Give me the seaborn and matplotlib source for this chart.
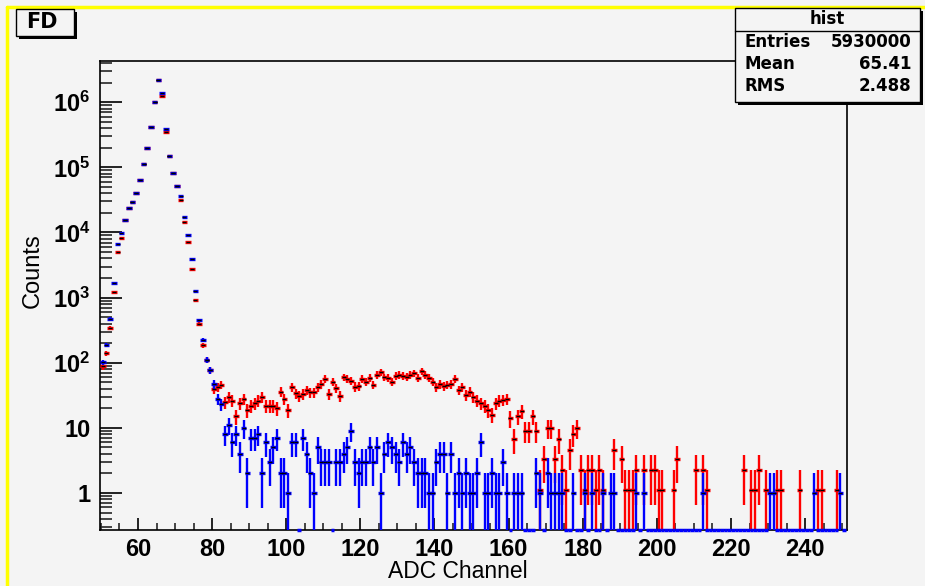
import numpy as np
import pandas as pd
import matplotlib
matplotlib.use("Agg")
import matplotlib.pyplot as plt
import seaborn as sns
from matplotlib import font_manager
from matplotlib.patches import Rectangle
from matplotlib.lines import Line2D
from matplotlib.ticker import MultipleLocator, LogLocator, NullFormatter, FixedLocator

# ---------------- data ----------------
first_channel = 50
blue_counts = [
    102, 189, 476, 1686, 6650, 9720, 15600, 23600, 29800, 40200,          # 50-59
    64400, 112000, 198000, 412000, 1000000, 2180000, 1400000, 389000, 151000, 81700,  # 60-69
    52100, 36500, 17500, 9160, 3860, 1270, 449, 221, 111, 76,             # 70-79
    47, 28, 23, 8, 11, 6, 8, 4, 10, 2,                                    # 80-89
    7, 7, 8, 2, 6, 3, 5, 7, 2, 2,                                         # 90-99
    1, 6, 6, 0, 7, 4, 2, 1, 5, 3,                                         # 100-109
    3, 3, 0, 3, 3, 4, 5, 9, 3, 2,                                         # 110-119
    3, 3, 5, 3, 5, 1, 4, 6, 5, 4,                                         # 120-129
    3, 6, 4, 5, 3, 2, 2, 2, 1, 1,                                         # 130-139
    3, 4, 4, 1, 4, 1, 2, 1, 2, 1,                                         # 140-149
    1, 2, 6, 1, 1, 2, 1, 1, 3, 1,                                         # 150-159
    0, 1, 1, 1, 0, 0, 0, 2, 1, 0,                                         # 160-169
    2, 1, 1, 1, 1, 0, 0, 1, 0, 0,                                         # 170-179
    1, 0, 1, 0, 0, 1, 0, 1, 1, 0,                                         # 180-189
    0, 0, 0, 0, 1, 0, 1, 0, 0, 0,                                         # 190-199
    0, 0, 0, 0, 0, 0, 0, 0, 0, 0,                                         # 200-209
    0, 0, 1, 0, 0, 0, 0, 0, 0, 0,                                         # 210-219
    0, 0, 0, 0, 0, 0, 0, 0, 0, 0,                                         # 220-229
    1, 1, 0, 0, 0, 0, 0, 0, 0, 0,                                         # 230-239
    0, 0, 1, 0, 0, 0, 0, 0, 0, 1,                                         # 240-249
    0,                                                                    # 250
]
red_counts = [
    88, 141, 346, 1224, 4955, 8140, 15600, 23600, 29800, 40200,           # 50-59
    64400, 112000, 198000, 412000, 1000000, 2180000, 1240000, 345000, 151000, 81700,  # 60-69
    52100, 31700, 14700, 7210, 2710, 912, 399, 185, 111, 76,              # 70-79
    40, 42, 46, 25, 30, 26, 15, 24, 28, 19,                               # 80-89
    22, 24, 26, 30, 22, 22, 22, 20, 36, 28,                               # 90-99
    19, 42, 34, 31, 33, 38, 35, 35, 42, 47,                               # 100-109
    56, 33, 51, 41, 31, 60, 56, 53, 43, 44,                               # 110-119
    56, 51, 58, 46, 65, 71, 60, 58, 51, 63,                               # 120-129
    65, 63, 61, 65, 69, 58, 75, 65, 58, 51,                               # 130-139
    42, 47, 44, 46, 47, 56, 38, 42, 32, 36,                               # 140-149
    30, 26, 24, 22, 19, 16, 24, 26, 27, 28,                               # 150-159
    14, 6.7, 15, 18, 9, 9, 15, 9, 1.12, 3.36,                             # 160-169
    10, 10, 3.36, 6.7, 2.24, 1.12, 4.5, 8, 10, 2.24,                      # 170-179
    1.12, 2.24, 2.24, 1.12, 2.24, 1.12, 0, 0, 4.5, 0,                     # 180-189
    3.36, 1.12, 1.12, 1.12, 2.24, 0, 2.24, 0, 2.24, 2.24,                 # 190-199
    1.12, 1.12, 0, 0, 1.12, 3.36, 0, 0, 0, 0,                             # 200-209
    2.24, 0, 2.24, 1.12, 0, 0, 0, 0, 0, 0,                                # 210-219
    0, 0, 0, 2.24, 0, 1.12, 1.12, 2.24, 0, 1.12,                          # 220-229
    0, 0, 1.12, 1.12, 0, 0, 0, 0, 1.12, 0,                                # 230-239
    0, 0, 0, 1.12, 1.12, 0, 0, 0, 1.12, 0,                                # 240-249
    0,                                                                    # 250
]
red_weight = 1.12   # per-entry weight of the red histogram (for its errors)

x_ticks = [60, 80, 100, 120, 140, 160, 180, 200, 220, 240]
y_ticks = [1, 10, 1e2, 1e3, 1e4, 1e5, 1e6]
y_tick_labels = ["1", "10", r"$\mathbf{10^{2}}$", r"$\mathbf{10^{3}}$", r"$\mathbf{10^{4}}$",
                 r"$\mathbf{10^{5}}$", r"$\mathbf{10^{6}}$"]
x_title = "ADC Channel"
y_title = "Counts"
pad_label = "FD"
stats_title = "hist"
stats_rows = [("Entries", "5930000"), ("Mean", "65.41"), ("RMS", "2.488")]

# ---------------- style ----------------
sns.set_theme(style="ticks")
names = {f.name for f in font_manager.fontManager.ttflist}
narrow = "Liberation Sans Narrow" if "Liberation Sans Narrow" in names else "Liberation Sans"
plt.rcParams["font.family"] = [narrow, "DejaVu Sans"]
plt.rcParams["mathtext.fontset"] = "custom"
plt.rcParams["mathtext.rm"] = narrow + ":bold"
plt.rcParams["mathtext.bf"] = narrow + ":bold"
plt.rcParams["mathtext.it"] = narrow + ":bold"

BG = "#f4f4f4"
W, H = 925, 586
fig = plt.figure(figsize=(W / 100, H / 100), dpi=100, facecolor=BG)

def fx(px):
    return px / W

def fy(py):
    return 1 - py / H

L, R, T, B = 100, 847, 61, 530
ax = fig.add_axes([fx(L), fy(B), fx(R) - fx(L), fy(T) - fy(B)])
ax.set_facecolor(BG)

YMIN, YMAX = 0.27, 4.3e6
ax.set_yscale("log")
ax.set_xlim(49.75, 251.3)
ax.set_ylim(YMIN, YMAX)

channels = np.arange(first_channel, first_channel + len(blue_counts))
df = pd.concat([
    pd.DataFrame({"channel": channels + 0.5, "counts": np.asarray(red_counts, float),
                  "series": "red", "w": red_weight}),
    pd.DataFrame({"channel": channels + 0.5, "counts": np.asarray(blue_counts, float),
                  "series": "blue", "w": 1.0}),
], ignore_index=True)

colors = {"red": "#ff0000", "blue": "#0000ff"}
for name in ["red", "blue"]:
    d = df[df["series"] == name]
    nz = d[d["counts"] > 0]
    err = np.sqrt(nz["w"] * nz["counts"])
    lo = np.clip(nz["counts"] - err, YMIN * 0.5, None)
    hi = nz["counts"] + err
    ax.vlines(nz["channel"], lo, hi, color=colors[name], lw=1.7, zorder=3)
    ax.hlines(nz["counts"], nz["channel"] - 0.75, nz["channel"] + 0.75,
              color=colors[name], lw=2.4, zorder=3)
    sns.scatterplot(data=nz, x="channel", y="counts", marker="_", color="black",
                    s=5, linewidth=1.0, ax=ax, zorder=4, legend=False)
    if name == "blue":
        z = d[(d["counts"] <= 0) & (d["channel"] > 80)]
        ax.hlines(np.full(len(z), YMIN), z["channel"] - 0.5, z["channel"] + 0.5,
                  color=colors[name], lw=2.5, zorder=5, clip_on=False)

ax.set_xlabel("")
ax.set_ylabel("")

# ticks
ax.xaxis.set_major_locator(FixedLocator(x_ticks))
ax.xaxis.set_minor_locator(MultipleLocator(5))
ax.yaxis.set_major_locator(FixedLocator(y_ticks))
ax.set_yticklabels(y_tick_labels)
ax.set_xticklabels([str(v) for v in x_ticks])
ax.yaxis.set_minor_locator(LogLocator(base=10, subs=np.arange(2, 10)))
ax.yaxis.set_minor_formatter(NullFormatter())
ax.tick_params(axis="x", which="major", direction="in", length=9, width=1.2, pad=6,
               labelsize=17, colors="black", top=False)
ax.tick_params(axis="x", which="minor", direction="in", length=5, width=1.2, top=False)
ax.tick_params(axis="y", which="major", direction="in", length=16, width=1.2, pad=7,
               labelsize=17, colors="black", right=False)
ax.tick_params(axis="y", which="minor", direction="in", length=8.5, width=1.2, right=False)
for lab in ax.get_xticklabels() + ax.get_yticklabels():
    lab.set_fontweight("bold")
for s in ax.spines.values():
    s.set_color("black")
    s.set_linewidth(1.2)
    s.set_zorder(2.5)

# axis titles
fig.text(fx(458), fy(572), x_title, ha="center", va="center", fontsize=16.5, color="black")
fig.text(fx(33), fy(271), y_title, ha="center", va="center", rotation=90, fontsize=17,
         color="black")

# pad border (yellow)
fig.add_artist(Line2D([fx(7), fx(W)], [fy(7), fy(7)], transform=fig.transFigure,
                      color="#ffff00", lw=2.5))
fig.add_artist(Line2D([fx(7), fx(7)], [fy(H), fy(7)], transform=fig.transFigure,
                      color="#ffff00", lw=2.5))

def box(x0, y0, x1, y1, shadow=3, z=10):
    fig.add_artist(Rectangle((fx(x0 + shadow), fy(y1 + shadow)), fx(x1 - x0), fy(y0) - fy(y1),
                             transform=fig.transFigure, facecolor="black", edgecolor="none",
                             zorder=z))
    fig.add_artist(Rectangle((fx(x0), fy(y1)), fx(x1 - x0), fy(y0) - fy(y1),
                             transform=fig.transFigure, facecolor=BG, edgecolor="black",
                             lw=1.0, zorder=z + 1))

# FD label
box(16, 9, 74, 36, shadow=3)
fig.text(fx(42), fy(22.5), pad_label, ha="center", va="center", fontsize=15,
         fontweight="bold", family=["DejaVu Sans"], color="black", zorder=13)

# stats box
box(735, 8, 920, 102, shadow=3)
fig.add_artist(Line2D([fx(735), fx(920)], [fy(31), fy(31)], transform=fig.transFigure,
                      color="black", lw=1.0, zorder=12))
fig.text(fx(827), fy(19), stats_title, ha="center", va="center", fontsize=12,
         fontweight="bold", family=["DejaVu Sans"], color="black", zorder=13)
for i, (k, v) in enumerate(stats_rows):
    yy = 42 + i * 22
    fig.text(fx(744), fy(yy), k, ha="left", va="center", fontsize=12, fontweight="bold",
             family=["DejaVu Sans"], color="black", zorder=13)
    fig.text(fx(911), fy(yy), v, ha="right", va="center", fontsize=12, fontweight="bold",
             family=["DejaVu Sans"], color="black", zorder=13)

fig.savefig("out.png", dpi=100, facecolor=BG)
